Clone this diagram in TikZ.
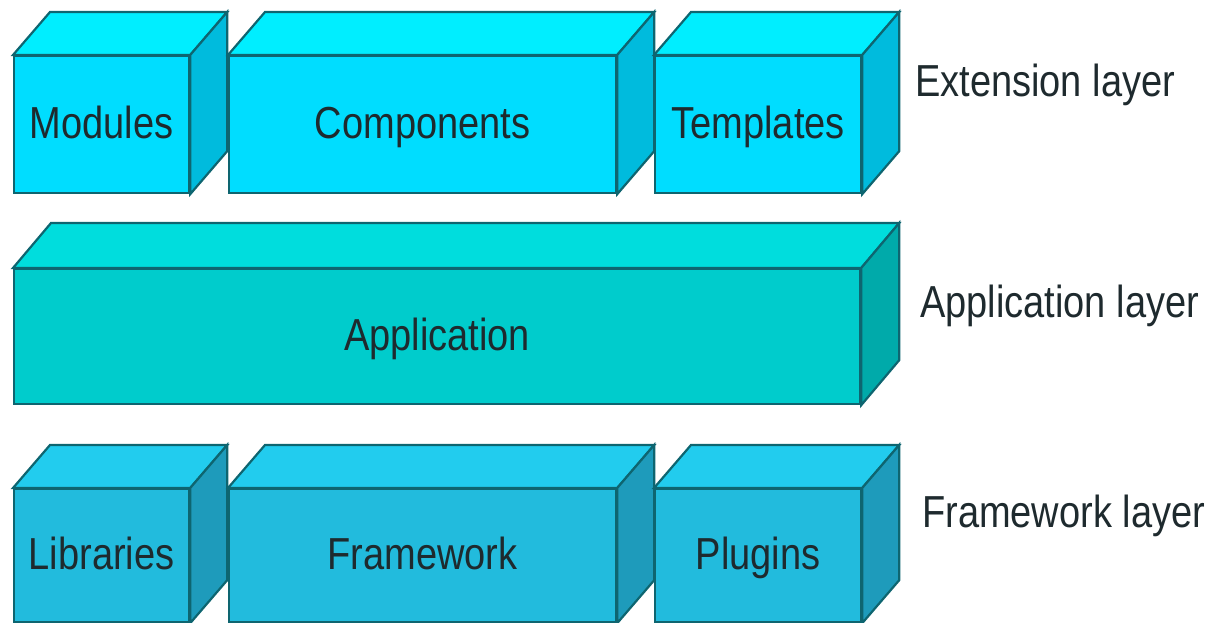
\documentclass[tikz,border=0pt]{standalone}
\usepackage{graphicx}
\usepackage{fontspec}
\setmainfont{Liberation Sans}
\definecolor{edgec}{HTML}{0E6570}
\definecolor{txtc}{HTML}{1E2A2E}
\definecolor{extf}{HTML}{00DDFF}
\definecolor{extt}{HTML}{00EEFF}
\definecolor{exts}{HTML}{00BBDD}
\definecolor{appf}{HTML}{00CCCC}
\definecolor{appt}{HTML}{00DDDD}
\definecolor{apps}{HTML}{00AAAA}
\definecolor{fwkf}{HTML}{22BBDD}
\definecolor{fwkt}{HTML}{22CCEE}
\definecolor{fwks}{HTML}{1E9BBB}
\newcommand\lbltext[1]{\scalebox{1}[1.18]{#1}}
% name, x, y, w, h, palette, text, dx, dy
\newcommand\layerbox[9]{%
  \node[frontface, fill=#6f, minimum width=#4pt, minimum height=#5pt] (#1) at (#2,#3) {\lbltext{#7}};
  \filldraw[edgeline, fill=#6t] (#1.north west) -- ++(#8,-#9) -- ([shift={(#8,-#9)}]#1.north east) -- (#1.north east) -- cycle;
  \filldraw[edgeline, fill=#6s] (#1.north east) -- ++(#8,-#9) -- ([shift={(#8,-#9)}]#1.south east) -- (#1.south east) -- cycle;
}
\begin{document}
\begin{tikzpicture}[x=1pt,y=-1pt,
  edgeline/.style={draw=edgec, line width=2.2pt, line join=miter},
  frontface/.style={edgeline, anchor=north west, inner sep=0pt, text=txtc,
    text height=37pt, text depth=10pt,
    font=\fontsize{38}{40}\selectfont},
  layerlabel/.style={anchor=base west, inner sep=0pt, text=txtc,
    font=\fontsize{38}{40}\selectfont}]
\useasboundingbox (0,0) rectangle (1208,623);
% Extension layer
\layerbox{mod}{13}{55}{175}{137}{ext}{Modules}{37}{43}
\layerbox{comp}{228}{55}{387}{137}{ext}{Components}{37}{43}
\layerbox{tmpl}{654}{55}{206}{137}{ext}{Templates}{37}{43}
% Application layer
\layerbox{app}{13}{268}{846}{135}{app}{Application}{38}{45}
% Framework layer
\layerbox{lib}{13}{488}{175}{133}{fwk}{Libraries}{37}{43}
\layerbox{fw}{228}{488}{387}{133}{fwk}{Framework}{37}{43}
\layerbox{plg}{654}{488}{206}{133}{fwk}{Plugins}{37}{43}
% layer labels
\node[layerlabel] (lext) at (915,97) {\lbltext{Extension layer}};
\node[layerlabel] (lapp) at (920,317) {\lbltext{Application layer}};
\node[layerlabel] (lfwk) at (922,527) {\lbltext{Framework layer}};
\end{tikzpicture}
\end{document}
